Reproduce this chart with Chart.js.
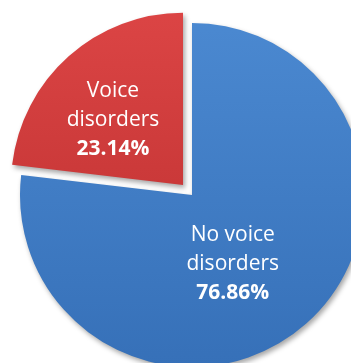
<!DOCTYPE html>
<html>
<head>
<meta charset="utf-8">
<script src="https://cdn.jsdelivr.net/npm/chart.js@4"></script>
<style>
  html, body { margin: 0; padding: 0; background: #fff; }
  #wrap { width: 351px; height: 363px; overflow: hidden; }
</style>
</head>
<body>
<div id="wrap"><canvas id="pieChart" width="351" height="363"></canvas></div>
<script>
let categories = ["No voice disorders", "Voice disorders"];
let shares = [76.86, 23.14];
let labelLines = [["No voice", "disorders"], ["Voice", "disorders"]];
let pullOut = [0, 54];

// slice colours: top, bottom of the shading
let sliceTop = ["#4b89d1", "#dc4545"];
let sliceBottom = ["#3670b8", "#b92d2d"];

// where the text sits inside each slice (angle shift in degrees, share of radius)
let labelPlace = [{ turn: 11, dist: 0.465 }, { turn: -5.5, dist: 0.555 }];

function sliceFill(ctx) {
    let chart = ctx.chart;
    let area = chart.chartArea;
    if (!area) return sliceBottom[ctx.dataIndex];
    let cy = (area.top + area.bottom) / 2;
    let g = chart.ctx.createLinearGradient(0, cy - 180, 0, cy + 175);
    g.addColorStop(0, sliceTop[ctx.dataIndex]);
    g.addColorStop(1, sliceBottom[ctx.dataIndex]);
    return g;
}

// soft drop shadow under the slices
const shadowPlugin = {
    id: "sliceShadow",
    beforeDatasetsDraw(chart) {
        let c = chart.ctx;
        c.save();
        c.shadowColor = "rgba(0,0,0,0.35)";
        c.shadowBlur = 5;
        c.shadowOffsetX = 2;
        c.shadowOffsetY = 3;
    },
    afterDatasetsDraw(chart) {
        chart.ctx.restore();
    }
};

// white text inside each slice
const textPlugin = {
    id: "sliceText",
    afterDatasetsDraw(chart) {
        let c = chart.ctx;
        let arcs = chart.getDatasetMeta(0).data;
        arcs.forEach((arc, i) => {
            let p = arc.getProps(["x", "y", "startAngle", "endAngle", "outerRadius", "circumference"], true);
            let mid = (p.startAngle + p.endAngle) / 2;
            let off = pullOut[i] / 4;
            let fix = 1 - Math.sin(Math.min(Math.PI, p.circumference || 0));
            let shift = off + off * fix;
            let cx = p.x + Math.cos(mid) * shift;
            let cy = p.y + Math.sin(mid) * shift;
            let a = mid + labelPlace[i].turn * Math.PI / 180;
            let r = p.outerRadius * labelPlace[i].dist;
            let x = cx + Math.cos(a) * r;
            let y = cy + Math.sin(a) * r;
            let lines = labelLines[i].concat([shares[i].toFixed(2) + "%"]);
            let step = 29;
            c.save();
            c.fillStyle = "#ffffff";
            c.textAlign = "center";
            c.textBaseline = "middle";
            lines.forEach((t, k) => {
                let bold = k === lines.length - 1;
                c.font = (bold ? "bold " : "") + "21px 'Open Sans'";
                c.fillText(t, x, y + (k - 1) * step);
            });
            c.restore();
        });
    }
};

new Chart("pieChart", {
    type: "pie",
    data: {
        labels: categories,
        datasets: [{
            data: shares,
            backgroundColor: sliceFill,
            borderWidth: 0,
            offset: pullOut,
            clip: false
        }]
    },
    options: {
        responsive: false,
        animation: false,
        radius: 172,
        layout: { padding: { left: 33, top: 27 } },
        plugins: {
            legend: { display: false },
            tooltip: { enabled: false }
        }
    },
    plugins: [shadowPlugin, textPlugin]
});
</script>
</body>
</html>
